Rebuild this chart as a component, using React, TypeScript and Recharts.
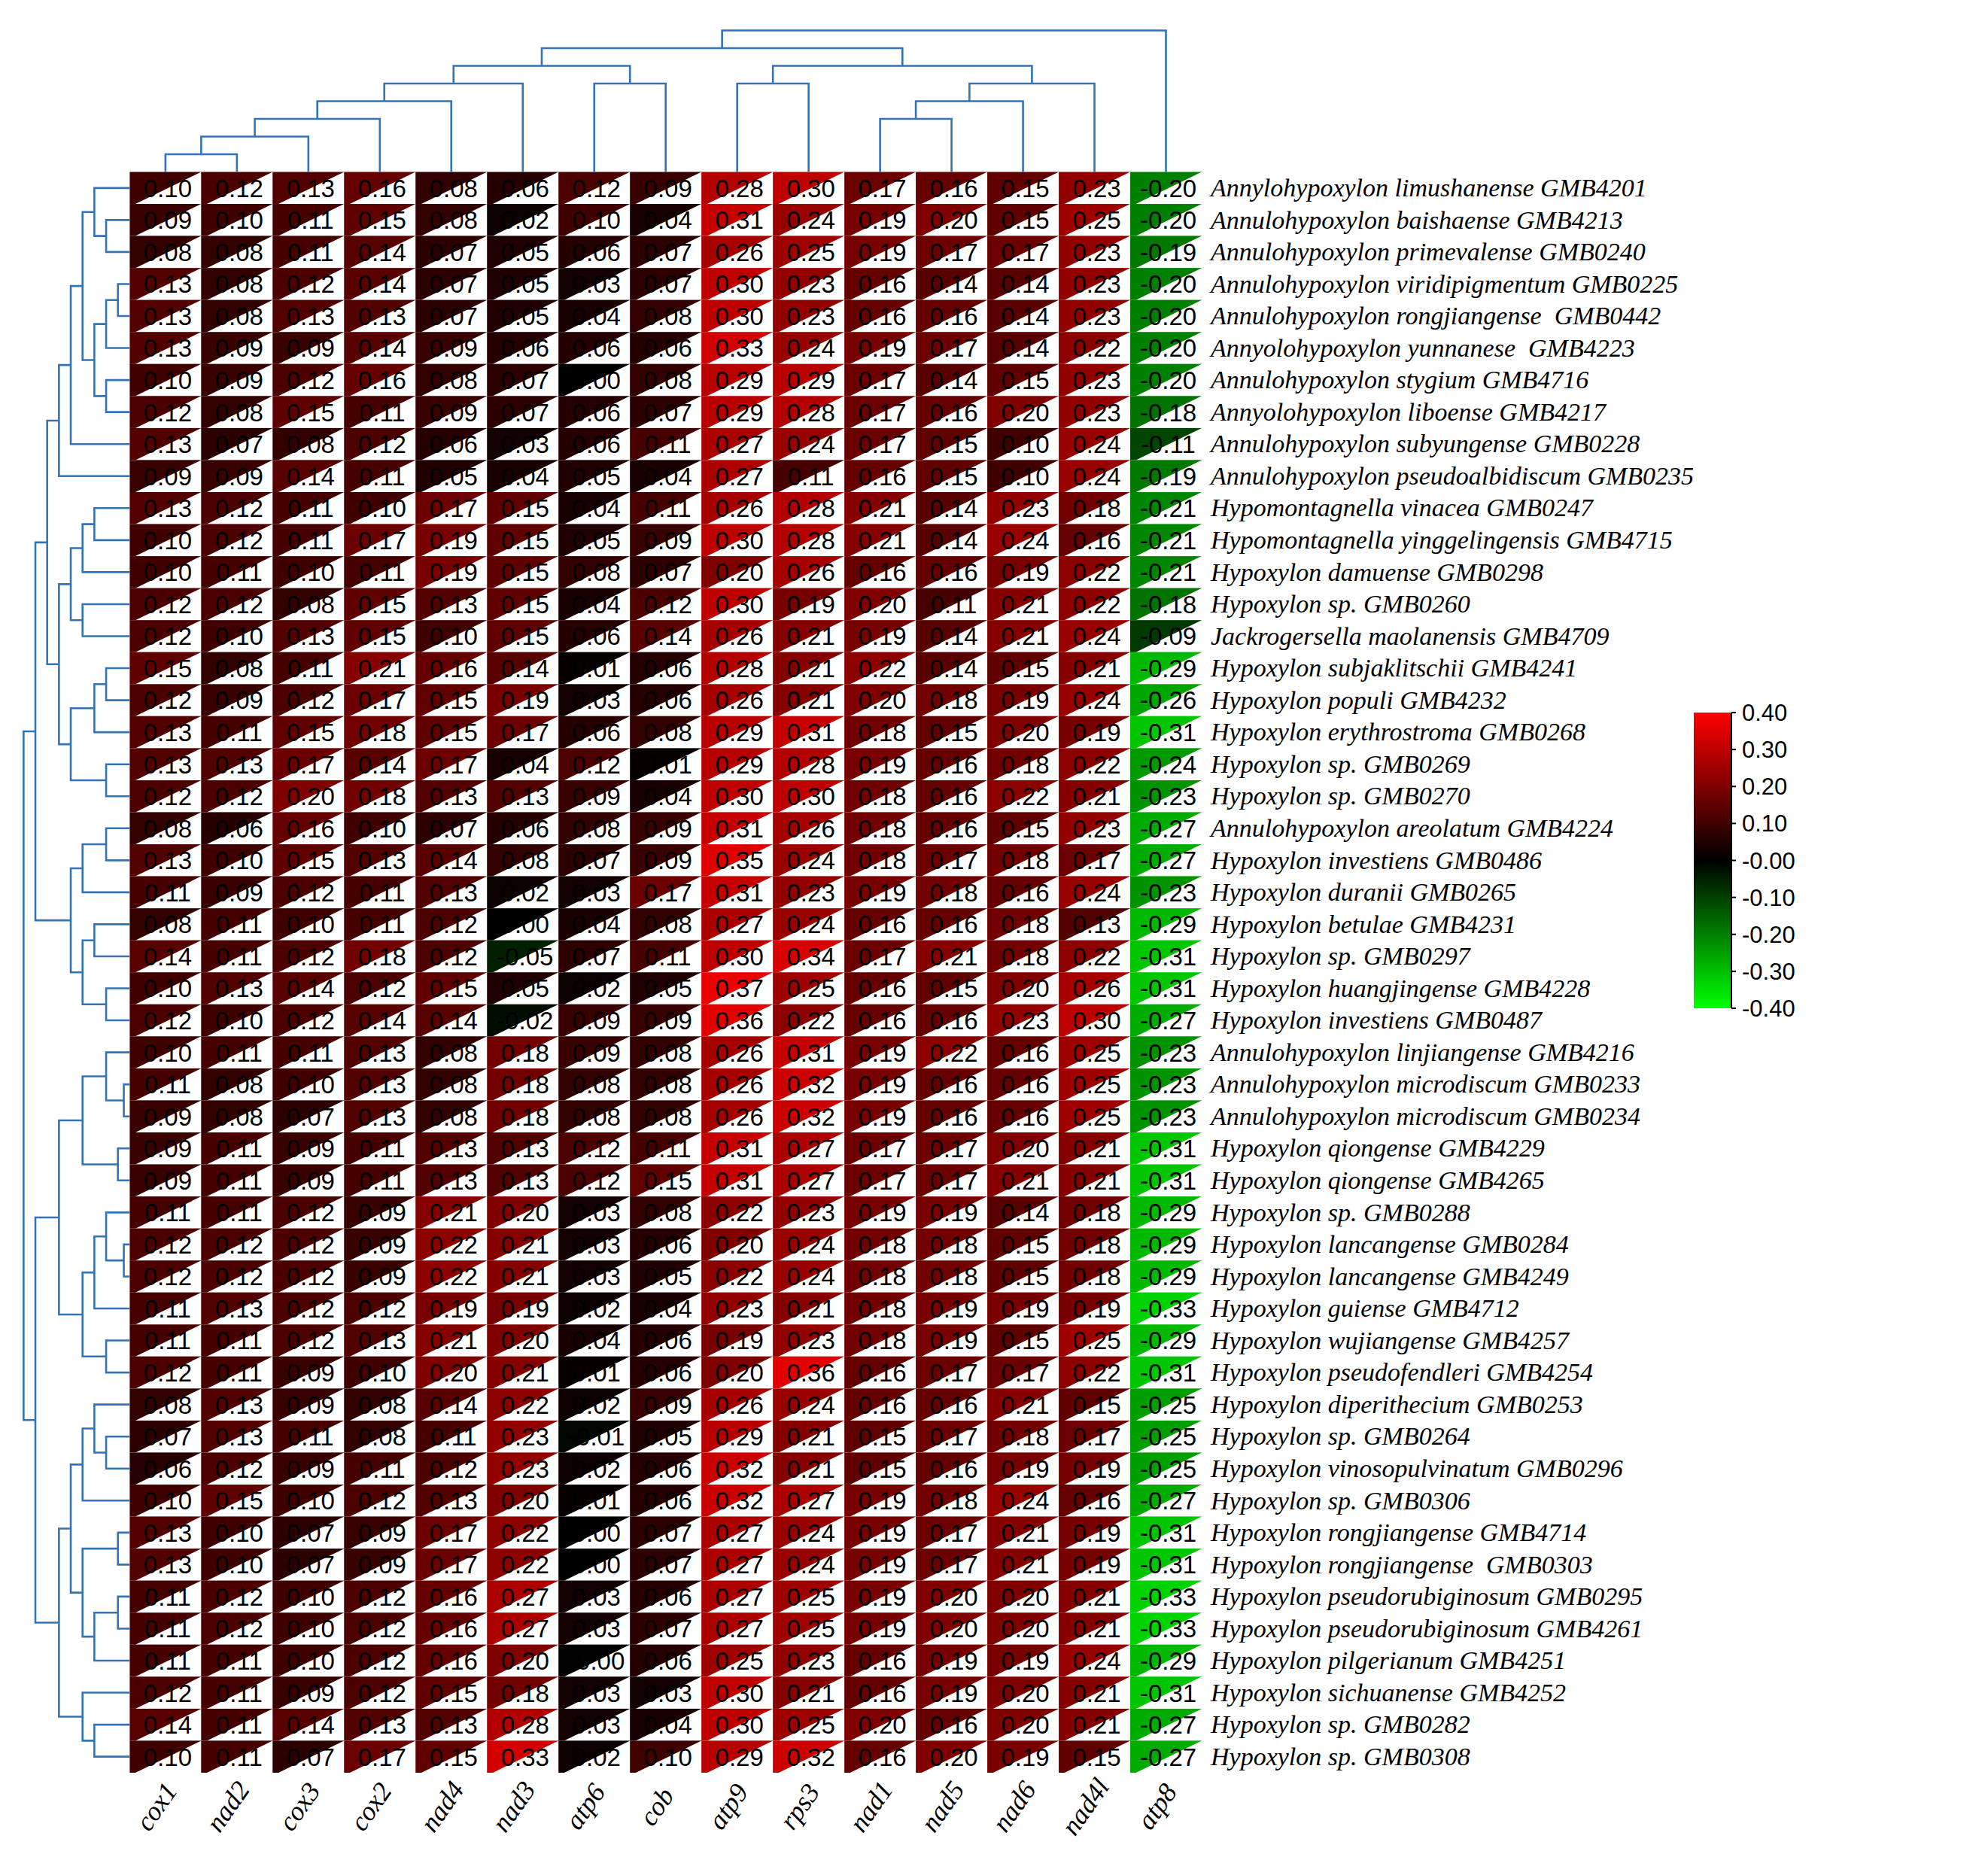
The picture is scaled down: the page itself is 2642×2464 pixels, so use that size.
import React from "react";
import { ComposedChart, LineChart, BarChart, Scatter, Line, Bar, XAxis, YAxis } from "recharts";

const genes = ["cox1", "nad2", "cox3", "cox2", "nad4", "nad3", "atp6", "cob", "atp9", "rps3", "nad1", "nad5", "nad6", "nad4l", "atp8"];

const species = [
  "Annylohypoxylon limushanense GMB4201",
  "Annulohypoxylon baishaense GMB4213",
  "Annulohypoxylon primevalense GMB0240",
  "Annulohypoxylon viridipigmentum GMB0225",
  "Annulohypoxylon rongjiangense  GMB0442",
  "Annyolohypoxylon yunnanese  GMB4223",
  "Annulohypoxylon stygium GMB4716",
  "Annyolohypoxylon liboense GMB4217",
  "Annulohypoxylon subyungense GMB0228",
  "Annulohypoxylon pseudoalbidiscum GMB0235",
  "Hypomontagnella vinacea GMB0247",
  "Hypomontagnella yinggelingensis GMB4715",
  "Hypoxylon damuense GMB0298",
  "Hypoxylon sp. GMB0260",
  "Jackrogersella maolanensis GMB4709",
  "Hypoxylon subjaklitschii GMB4241",
  "Hypoxylon populi GMB4232",
  "Hypoxylon erythrostroma GMB0268",
  "Hypoxylon sp. GMB0269",
  "Hypoxylon sp. GMB0270",
  "Annulohypoxylon areolatum GMB4224",
  "Hypoxylon investiens GMB0486",
  "Hypoxylon duranii GMB0265",
  "Hypoxylon betulae GMB4231",
  "Hypoxylon sp. GMB0297",
  "Hypoxylon huangjingense GMB4228",
  "Hypoxylon investiens GMB0487",
  "Annulohypoxylon linjiangense GMB4216",
  "Annulohypoxylon microdiscum GMB0233",
  "Annulohypoxylon microdiscum GMB0234",
  "Hypoxylon qiongense GMB4229",
  "Hypoxylon qiongense GMB4265",
  "Hypoxylon sp. GMB0288",
  "Hypoxylon lancangense GMB0284",
  "Hypoxylon lancangense GMB4249",
  "Hypoxylon guiense GMB4712",
  "Hypoxylon wujiangense GMB4257",
  "Hypoxylon pseudofendleri GMB4254",
  "Hypoxylon diperithecium GMB0253",
  "Hypoxylon sp. GMB0264",
  "Hypoxylon vinosopulvinatum GMB0296",
  "Hypoxylon sp. GMB0306",
  "Hypoxylon rongjiangense GMB4714",
  "Hypoxylon rongjiangense  GMB0303",
  "Hypoxylon pseudorubiginosum GMB0295",
  "Hypoxylon pseudorubiginosum GMB4261",
  "Hypoxylon pilgerianum GMB4251",
  "Hypoxylon sichuanense GMB4252",
  "Hypoxylon sp. GMB0282",
  "Hypoxylon sp. GMB0308",
];

// one array per gene, rows in species order
const cox1 = [0.10, 0.09, 0.08, 0.13, 0.13, 0.13, 0.10, 0.12, 0.13, 0.09, 0.13, 0.10, 0.10,
  0.12, 0.12, 0.15, 0.12, 0.13, 0.13, 0.12, 0.08, 0.13, 0.11, 0.08, 0.14, 0.10,
  0.12, 0.10, 0.11, 0.09, 0.09, 0.09, 0.11, 0.12, 0.12, 0.11, 0.11, 0.12,
  0.08, 0.07, 0.06, 0.10, 0.13, 0.13, 0.11, 0.11, 0.11, 0.12, 0.14, 0.10];
const nad2 = [0.12, 0.10, 0.08, 0.08, 0.08, 0.09, 0.09, 0.08, 0.07, 0.09, 0.12, 0.12, 0.11,
  0.12, 0.10, 0.08, 0.09, 0.11, 0.13, 0.12, 0.06, 0.10, 0.09, 0.11, 0.11, 0.13,
  0.10, 0.11, 0.08, 0.08, 0.11, 0.11, 0.11, 0.12, 0.12, 0.13, 0.11, 0.11,
  0.13, 0.13, 0.12, 0.15, 0.10, 0.10, 0.12, 0.12, 0.11, 0.11, 0.11, 0.11];
const cox3 = [0.13, 0.11, 0.11, 0.12, 0.13, 0.09, 0.12, 0.15, 0.08, 0.14, 0.11, 0.11, 0.10,
  0.08, 0.13, 0.11, 0.12, 0.15, 0.17, 0.20, 0.16, 0.15, 0.12, 0.10, 0.12, 0.14,
  0.12, 0.11, 0.10, 0.07, 0.09, 0.09, 0.12, 0.12, 0.12, 0.12, 0.12, 0.09,
  0.09, 0.11, 0.09, 0.10, 0.07, 0.07, 0.10, 0.10, 0.10, 0.09, 0.14, 0.07];
const cox2 = [0.16, 0.15, 0.14, 0.14, 0.13, 0.14, 0.16, 0.11, 0.12, 0.11, 0.10, 0.17, 0.11,
  0.15, 0.15, 0.21, 0.17, 0.18, 0.14, 0.18, 0.10, 0.13, 0.11, 0.11, 0.18, 0.12,
  0.14, 0.13, 0.13, 0.13, 0.11, 0.11, 0.09, 0.09, 0.09, 0.12, 0.13, 0.10,
  0.08, 0.08, 0.11, 0.12, 0.09, 0.09, 0.12, 0.12, 0.12, 0.12, 0.13, 0.17];
const nad4 = [0.08, 0.08, 0.07, 0.07, 0.07, 0.09, 0.08, 0.09, 0.06, 0.05, 0.17, 0.19, 0.19,
  0.13, 0.10, 0.16, 0.15, 0.15, 0.17, 0.13, 0.07, 0.14, 0.13, 0.12, 0.12, 0.15,
  0.14, 0.08, 0.08, 0.08, 0.13, 0.13, 0.21, 0.22, 0.22, 0.19, 0.21, 0.20,
  0.14, 0.11, 0.12, 0.13, 0.17, 0.17, 0.16, 0.16, 0.16, 0.15, 0.13, 0.15];
const nad3 = [0.06, 0.02, 0.05, 0.05, 0.05, 0.06, 0.07, 0.07, 0.03, 0.04, 0.15, 0.15, 0.15,
  0.15, 0.15, 0.14, 0.19, 0.17, 0.04, 0.13, 0.06, 0.08, 0.02, 0.00, -0.05, 0.05,
  -0.02, 0.18, 0.18, 0.18, 0.13, 0.13, 0.20, 0.21, 0.21, 0.19, 0.20, 0.21,
  0.22, 0.23, 0.23, 0.20, 0.22, 0.22, 0.27, 0.27, 0.20, 0.18, 0.28, 0.33];
const atp6 = [0.12, 0.10, 0.06, 0.03, 0.04, 0.06, 0.00, 0.06, 0.06, 0.05, 0.04, 0.05, 0.08,
  0.04, 0.06, 0.01, 0.03, 0.06, 0.12, 0.09, 0.08, 0.07, 0.03, 0.04, 0.07, 0.02,
  0.09, 0.09, 0.08, 0.08, 0.12, 0.12, 0.03, 0.03, 0.03, 0.02, 0.04, 0.01,
  0.02, -0.01, 0.02, 0.01, 0.00, 0.00, 0.03, 0.03, -0.001, 0.03, 0.03, 0.02];
const cob = [0.09, 0.04, 0.07, 0.07, 0.08, 0.06, 0.08, 0.07, 0.11, 0.04, 0.11, 0.09, 0.07,
  0.12, 0.14, 0.06, 0.06, 0.08, 0.01, 0.04, 0.09, 0.09, 0.17, 0.08, 0.11, 0.05,
  0.09, 0.08, 0.08, 0.08, 0.11, 0.15, 0.08, 0.06, 0.05, 0.04, 0.06, 0.06,
  0.09, 0.05, 0.06, 0.06, 0.07, 0.07, 0.06, 0.07, 0.06, 0.03, 0.04, 0.10];
const atp9 = [0.28, 0.31, 0.26, 0.30, 0.30, 0.33, 0.29, 0.29, 0.27, 0.27, 0.26, 0.30, 0.20,
  0.30, 0.26, 0.28, 0.26, 0.29, 0.29, 0.30, 0.31, 0.35, 0.31, 0.27, 0.30, 0.37,
  0.36, 0.26, 0.26, 0.26, 0.31, 0.31, 0.22, 0.20, 0.22, 0.23, 0.19, 0.20,
  0.26, 0.29, 0.32, 0.32, 0.27, 0.27, 0.27, 0.27, 0.25, 0.30, 0.30, 0.29];
const rps3 = [0.30, 0.24, 0.25, 0.23, 0.23, 0.24, 0.29, 0.28, 0.24, 0.11, 0.28, 0.28, 0.26,
  0.19, 0.21, 0.21, 0.21, 0.31, 0.28, 0.30, 0.26, 0.24, 0.23, 0.24, 0.34, 0.25,
  0.22, 0.31, 0.32, 0.32, 0.27, 0.27, 0.23, 0.24, 0.24, 0.21, 0.23, 0.36,
  0.24, 0.21, 0.21, 0.27, 0.24, 0.24, 0.25, 0.25, 0.23, 0.21, 0.25, 0.32];
const nad1 = [0.17, 0.19, 0.19, 0.16, 0.16, 0.19, 0.17, 0.17, 0.17, 0.16, 0.21, 0.21, 0.16,
  0.20, 0.19, 0.22, 0.20, 0.18, 0.19, 0.18, 0.18, 0.18, 0.19, 0.16, 0.17, 0.16,
  0.16, 0.19, 0.19, 0.19, 0.17, 0.17, 0.19, 0.18, 0.18, 0.18, 0.18, 0.16,
  0.16, 0.15, 0.15, 0.19, 0.19, 0.19, 0.19, 0.19, 0.16, 0.16, 0.20, 0.16];
const nad5 = [0.16, 0.20, 0.17, 0.14, 0.16, 0.17, 0.14, 0.16, 0.15, 0.15, 0.14, 0.14, 0.16,
  0.11, 0.14, 0.14, 0.18, 0.15, 0.16, 0.16, 0.16, 0.17, 0.18, 0.16, 0.21, 0.15,
  0.16, 0.22, 0.16, 0.16, 0.17, 0.17, 0.19, 0.18, 0.18, 0.19, 0.19, 0.17,
  0.16, 0.17, 0.16, 0.18, 0.17, 0.17, 0.20, 0.20, 0.19, 0.19, 0.16, 0.20];
const nad6 = [0.15, 0.15, 0.17, 0.14, 0.14, 0.14, 0.15, 0.20, 0.10, 0.10, 0.23, 0.24, 0.19,
  0.21, 0.21, 0.15, 0.19, 0.20, 0.18, 0.22, 0.15, 0.18, 0.16, 0.18, 0.18, 0.20,
  0.23, 0.16, 0.16, 0.16, 0.20, 0.21, 0.14, 0.15, 0.15, 0.19, 0.15, 0.17,
  0.21, 0.18, 0.19, 0.24, 0.21, 0.21, 0.20, 0.20, 0.19, 0.20, 0.20, 0.19];
const nad4l = [0.23, 0.25, 0.23, 0.23, 0.23, 0.22, 0.23, 0.23, 0.24, 0.24, 0.18, 0.16, 0.22,
  0.22, 0.24, 0.21, 0.24, 0.19, 0.22, 0.21, 0.23, 0.17, 0.24, 0.13, 0.22, 0.26,
  0.30, 0.25, 0.25, 0.25, 0.21, 0.21, 0.18, 0.18, 0.18, 0.19, 0.25, 0.22,
  0.15, 0.17, 0.19, 0.16, 0.19, 0.19, 0.21, 0.21, 0.24, 0.21, 0.21, 0.15];
const atp8 = [-0.20, -0.20, -0.19, -0.20, -0.20, -0.20, -0.20, -0.18, -0.11, -0.19, -0.21, -0.21, -0.21,
  -0.18, -0.09, -0.29, -0.26, -0.31, -0.24, -0.23, -0.27, -0.27, -0.23, -0.29, -0.31, -0.31,
  -0.27, -0.23, -0.23, -0.23, -0.31, -0.31, -0.29, -0.29, -0.29, -0.33, -0.29, -0.31,
  -0.25, -0.25, -0.25, -0.27, -0.31, -0.31, -0.33, -0.33, -0.29, -0.31, -0.27, -0.27];

const geneValues = [cox1, nad2, cox3, cox2, nad4, nad3, atp6, cob, atp9, rps3, nad1, nad5, nad6, nad4l, atp8];

// dendrograms: leaf = index, node = [height, left, right]
const geneTree: any = [8,
  [7,
    [6, [5, [4, [3, [2, [1, 0, 1], 2], 3], 4], 5], [5, 6, 7]],
    [6, [5, 8, 9], [5, [4, [3, 10, 11], 12], 13]]],
  14];

const speciesTree: any = [9,
  [8,
    [7,
      [6, [5, [4, [3, 0, [2, 1, 2]], [3, [2, [1, 3, 4], 5], [2, 6, 7]]], 8], 9],
      [6, [5, [4, [3, 10, 11], 12], [4, 13, 14]], [5, [3, [2, 15, 16], 17], [2, 18, 19]]]],
    [5, [4, [2, 20, 21], 22], [4, [3, 23, 24], [2, 25, 26]]]],
  [8,
    [6, [4, [2, 27, [0.5, 28, 29]], [1, 30, 31]], [4, [3, [2, 32, [0.5, 33, 34]], 35], [2, 36, 37]]],
    [6, [5, [4, [3, 38, [2, 39, 40]], 41], [4, [1, 42, 43], [3, [1, 44, 45], 46]]], [4, 47, [3, 48, 49]]]]];

const legendTicks = [0.4, 0.3, 0.2, 0.1, 0, -0.1, -0.2, -0.3, -0.4];

const HM = { left: 172.4, top: 228.5, right: 1597, bottom: 2356 };
const cellW = (HM.right - HM.left) / genes.length;
const cellH = (HM.bottom - HM.top) / species.length;
const BLUE = "#3574b4";
const SERIF = "'Liberation Serif', 'Times New Roman', serif";
const SANS = "'Liberation Sans', Arial, sans-serif";

function cellColor(v: number) {
  const c = Math.round(Math.min(1, Math.abs(v) / 0.4) * 255);
  return v >= 0 ? `rgb(${c},0,0)` : `rgb(0,${c},0)`;
}

// walk a tree, return position/height of the node and collect U-shaped links
function layout(node: any, links: { pos: number; h: number }[][]): { pos: number; h: number } {
  if (typeof node === "number") return { pos: node + 0.5, h: 0 };
  const [h, a, b] = node;
  const l = layout(a, links);
  const r = layout(b, links);
  links.push([
    { pos: l.pos, h: l.h },
    { pos: l.pos, h },
    { pos: r.pos, h },
    { pos: r.pos, h: r.h },
  ]);
  return { pos: (l.pos + r.pos) / 2, h };
}

const geneLinks: { pos: number; h: number }[][] = [];
layout(geneTree, geneLinks);
const speciesLinks: { pos: number; h: number }[][] = [];
layout(speciesTree, speciesLinks);

const cells = species.flatMap((_, i) =>
  genes.map((_, j) => ({ x: j + 0.5, y: i + 0.5, v: geneValues[j][i] }))
);

function HeatCell(props: any) {
  const { cx, cy, payload } = props;
  const x0 = cx - cellW / 2;
  const y0 = cy - cellH / 2;
  const x1 = x0 + cellW;
  const y1 = y0 + cellH;
  return (
    <g>
      <rect x={x0} y={y0} width={cellW} height={cellH} fill={cellColor(payload.v)} />
      <polygon points={`${x0 + cellW * 0.08},${y1} ${x1},${y0} ${x1},${y1}`} fill="#fff" />
      <text x={cx + 3} y={cy} dy="0.36em" textAnchor="middle" fontSize={33} fontFamily={SANS} fill="#000">
        {payload.v.toFixed(2)}
      </text>
    </g>
  );
}

function SpeciesTick(props: any) {
  const { x, y, payload } = props;
  return (
    <text x={x} y={y} dy="0.33em" fontSize={34} fontStyle="italic" fontFamily={SERIF} fill="#000" style={{ whiteSpace: "pre" }}>
      {species[Math.floor(payload.value)]}
    </text>
  );
}

function GeneTick(props: any) {
  const { x, y, payload } = props;
  return (
    <text
      transform={`translate(${x - 12},${y + 45}) rotate(-55)`}
      textAnchor="middle"
      dy="0.33em"
      fontSize={36}
      fontStyle="italic"
      fontFamily={SERIF}
      fill="#000"
    >
      {genes[Math.floor(payload.value)]}
    </text>
  );
}

export default function App() {
  const rowTicks = species.map((_, i) => i + 0.5);
  const colTicks = genes.map((_, j) => j + 0.5);
  return (
    <div style={{ position: "absolute", left: 0, top: 0, width: 2642, height: 2464, background: "#fff" }}>
      <div style={{ position: "absolute", left: 0, top: 0 }}>
        <ComposedChart
          width={2642}
          height={2464}
          data={cells}
          margin={{ top: HM.top, left: HM.left, right: 0, bottom: 0 }}
        >
          <XAxis
            type="number"
            dataKey="x"
            domain={[0, genes.length]}
            ticks={colTicks}
            interval={0}
            height={2464 - HM.bottom}
            axisLine={false}
            tickLine={false}
            tickSize={0}
            tickMargin={0}
            tick={<GeneTick />}
          />
          <YAxis
            type="number"
            dataKey="y"
            orientation="right"
            domain={[0, species.length]}
            reversed
            ticks={rowTicks}
            interval={0}
            width={2642 - HM.right}
            axisLine={false}
            tickLine={false}
            tickSize={0}
            tickMargin={12}
            tick={<SpeciesTick />}
          />
          <Scatter data={cells} shape={<HeatCell />} isAnimationActive={false} />
        </ComposedChart>
      </div>

      <div style={{ position: "absolute", left: 0, top: 0 }}>
        <LineChart width={1700} height={HM.top} margin={{ top: 40.5, left: HM.left, right: 1700 - HM.right, bottom: 0 }}>
          <XAxis type="number" dataKey="pos" domain={[0, genes.length]} hide />
          <YAxis type="number" domain={[0, 8]} hide />
          {geneLinks.map((pts, k) => (
            <Line key={k} data={pts} dataKey="h" stroke={BLUE} strokeWidth={2.6} dot={false} type="linear" isAnimationActive={false} />
          ))}
        </LineChart>
      </div>

      <div style={{ position: "absolute", left: 0, top: 0 }}>
        <LineChart width={HM.left} height={HM.bottom} margin={{ top: HM.top, left: 0, right: 0, bottom: 0 }}>
          <XAxis type="number" dataKey="h" domain={[0, 11]} reversed hide />
          <YAxis type="number" domain={[0, species.length]} reversed hide />
          {speciesLinks.map((pts, k) => (
            <Line key={k} data={pts} dataKey="pos" stroke={BLUE} strokeWidth={2.6} dot={false} type="linear" isAnimationActive={false} />
          ))}
        </LineChart>
      </div>

      <div style={{ position: "absolute", left: 2251, top: 927 }}>
        <BarChart
          width={300}
          height={433}
          data={[{ k: "scale", r: [-0.4, 0.4] }]}
          margin={{ top: 20, bottom: 20, left: 0, right: 0 }}
          barCategoryGap={0}
        >
          <defs>
            <linearGradient id="cbar" x1="0" y1="0" x2="0" y2="1">
              <stop offset="0%" stopColor="#ff0000" />
              <stop offset="50%" stopColor="#000000" />
              <stop offset="100%" stopColor="#00ff00" />
            </linearGradient>
          </defs>
          <XAxis dataKey="k" hide />
          <YAxis
            type="number"
            orientation="right"
            domain={[-0.4, 0.4]}
            ticks={legendTicks}
            interval={0}
            width={250}
            axisLine={{ stroke: "#000", strokeWidth: 2 }}
            tickLine={{ stroke: "#000", strokeWidth: 2 }}
            tickSize={6}
            tickMargin={8}
            tick={{ fontSize: 31, fontFamily: SANS, fill: "#000" }}
            tickFormatter={(v: number) => (v === 0 ? "-0.00" : v.toFixed(2))}
          />
          <Bar dataKey="r" fill="url(#cbar)" isAnimationActive={false} />
        </BarChart>
      </div>
    </div>
  );
}
